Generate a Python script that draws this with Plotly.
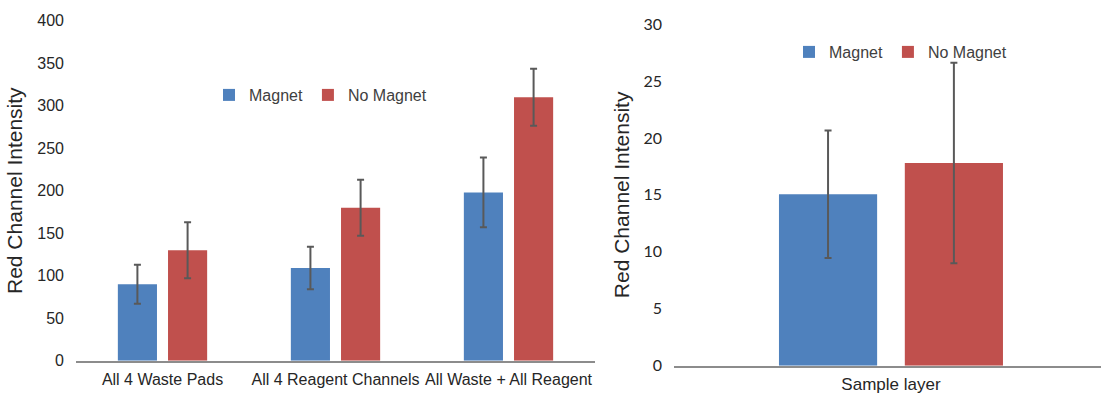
import plotly.graph_objects as go

categories_left = ["All 4 Waste Pads", "All 4 Reagent Channels", "All Waste + All Reagent"]
magnet_left = [90, 109, 198]
magnet_left_err = [23, 25, 41]
nomagnet_left = [130, 180, 310]
nomagnet_left_err = [33, 33, 33.5]

categories_right = ["Sample layer"]
magnet_right = [15.05]
magnet_right_err = [5.6]
nomagnet_right = [17.8]
nomagnet_right_err = [8.8]

series_names = ["Magnet", "No Magnet"]
BLUE = "#4F81BD"
RED = "#C0504D"
ERR = "#595959"
TXT = "#262626"
AX = "#8C8C8C"

fig = go.Figure()

def add_bar(x, y, err, name, color, xa, ya, legend):
    fig.add_trace(go.Bar(
        x=x, y=y, name=name, marker=dict(color=color, line=dict(width=0)),
        error_y=dict(type="data", array=err, visible=True, color=ERR, thickness=2, width=3.5),
        xaxis=xa, yaxis=ya, legend=legend,
    ))

add_bar(categories_left, magnet_left, magnet_left_err, series_names[0], BLUE, "x", "y", "legend")
add_bar(categories_left, nomagnet_left, nomagnet_left_err, series_names[1], RED, "x", "y", "legend")
add_bar(categories_right, magnet_right, magnet_right_err, series_names[0], BLUE, "x2", "y2", "legend2")
add_bar(categories_right, nomagnet_right, nomagnet_right_err, series_names[1], RED, "x2", "y2", "legend2")

W, H = 1101, 395

fig.update_layout(
    width=W, height=H,
    margin=dict(l=0, r=0, t=0, b=0, autoexpand=False),
    paper_bgcolor="white", plot_bgcolor="white",
    barmode="group", bargap=0.42, bargroupgap=0.22,
    font=dict(family="Liberation Sans, Arial, sans-serif", size=16, color=TXT),
    xaxis=dict(domain=[76 / W, 595 / W], anchor="y", showgrid=False, showline=True, automargin=False,
               linecolor=AX, linewidth=1.5, ticks="", tickfont=dict(size=16, color=TXT),
               ticklabelstandoff=3, range=[-0.5, 2.5]),
    yaxis=dict(domain=[1 - 360.7 / H, 1 - 20.7 / H], anchor="x", range=[0, 400], dtick=50,
               showgrid=False, showline=False, zeroline=False, ticks="", automargin=False,
               ticklabelstandoff=11, tickfont=dict(size=16, color=TXT),
               title=dict(text="Red Channel Intensity", font=dict(size=21, color=TXT), standoff=8)),
    xaxis2=dict(domain=[674 / W, 1.0], anchor="y2", showgrid=False, showline=True, automargin=False,
                linecolor=AX, linewidth=1.5, ticks="", tickfont=dict(size=17, color=TXT),
                ticklabelstandoff=2, range=[-0.5, 0.484]),
    yaxis2=dict(domain=[1 - 365.7 / H, 1 - 24 / H], anchor="x2", range=[0, 30], dtick=5,
                showgrid=False, showline=False, zeroline=False, ticks="", automargin=False,
                ticklabelstandoff=11, tickfont=dict(family="Lato, sans-serif", size=16, color=TXT),
                title=dict(text="Red Channel Intensity", font=dict(size=21, color=TXT), standoff=8)),
    legend=dict(orientation="h", x=209 / W, y=1 - 95 / H, xanchor="left", yanchor="middle",
                font=dict(size=16, color="#404040"), bgcolor="rgba(0,0,0,0)"),
    legend2=dict(orientation="h", x=789 / W, y=1 - 52 / H, xanchor="left", yanchor="middle",
                 font=dict(size=16, color="#404040"), bgcolor="rgba(0,0,0,0)"),
)

fig.write_html("out.html", config={"displayModeBar": False},
               post_script="document.body.style.margin='0';document.body.style.overflow='hidden';")
